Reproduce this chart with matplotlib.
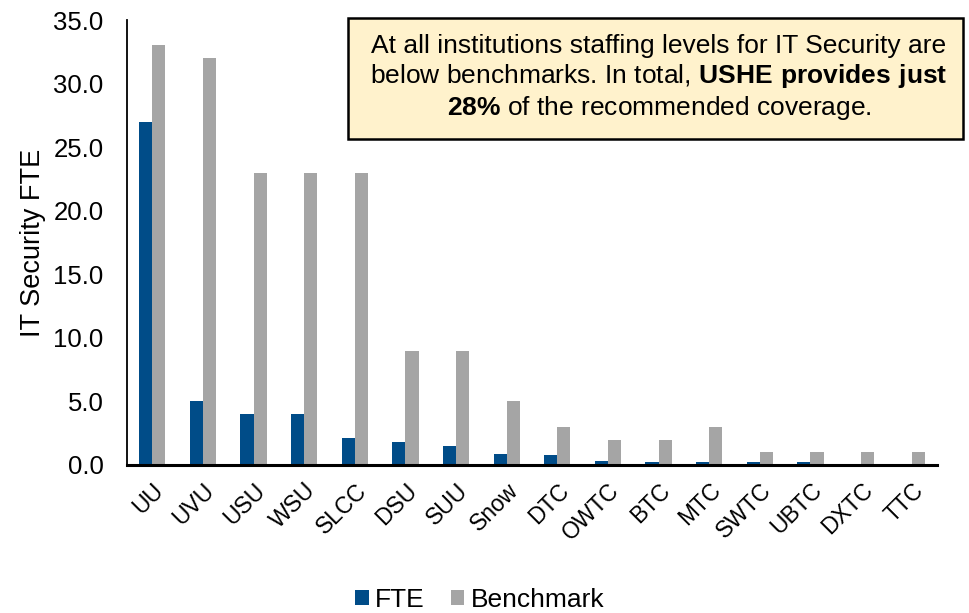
import matplotlib
matplotlib.use("Agg")
import matplotlib.pyplot as plt
from matplotlib.patches import Rectangle
from matplotlib.transforms import ScaledTranslation
import numpy as np

plt.rcParams['font.family'] = ['Liberation Sans', 'DejaVu Sans']
plt.rcParams['mathtext.fontset'] = 'custom'
plt.rcParams['mathtext.rm'] = 'Liberation Sans'
plt.rcParams['mathtext.bf'] = 'Liberation Sans:bold'

categories = ["UU", "UVU", "USU", "WSU", "SLCC", "DSU", "SUU", "Snow", "DTC",
              "OWTC", "BTC", "MTC", "SWTC", "UBTC", "DXTC", "TTC"]
fte = [27.0, 5.0, 4.0, 4.0, 2.1, 1.8, 1.5, 0.9, 0.8, 0.3, 0.2, 0.2, 0.2, 0.2, 0.1, 0.1]
benchmark = [33.0, 32.0, 23.0, 23.0, 23.0, 9.0, 9.0, 5.0, 3.0, 2.0, 2.0, 3.0, 1.0, 1.0, 1.0, 1.0]
yticks = [0, 5, 10, 15, 20, 25, 30, 35]

W, H = 970, 613
fig = plt.figure(figsize=(W/100, H/100), dpi=100)
ax = fig.add_axes([127/W, 1 - 465/H, (937-127)/W, (465-20)/H])

x = np.arange(len(categories))
w = 0.26
ax.bar(x - w/2, fte, width=w, color='#004C88', label='FTE')
ax.bar(x + w/2, benchmark, width=w, color='#A5A5A5', label='Benchmark')

ax.set_xlim(-0.5, len(categories) - 0.5)
ax.set_ylim(0, 35)
ax.set_yticks(yticks)
ax.set_yticklabels([f"{v:.1f}" for v in yticks], fontsize=18.5)
ax.set_xticks(x)
ax.set_xticklabels(categories, rotation=45, ha='right', rotation_mode='anchor', fontsize=16.5)
shift = ScaledTranslation(-5/100, 0, fig.dpi_scale_trans)
for lbl in ax.get_xticklabels():
    lbl.set_transform(lbl.get_transform() + shift)
ax.tick_params(axis='y', length=0, pad=17)
ax.tick_params(axis='x', length=0, pad=10)
for s in ['top', 'right']:
    ax.spines[s].set_visible(False)
ax.spines['left'].set_linewidth(1.3)
ax.spines['bottom'].set_linewidth(2.2)
ax.set_ylabel("IT Security FTE", fontsize=19.5)
ax.yaxis.set_label_coords(-(127-46)/(937-127), 0.5)

fig.legend(loc='center', bbox_to_anchor=(480/W, 1 - 600/H), ncol=2, frameon=False,
           fontsize=19, handlelength=0.5, handleheight=0.5, handletextpad=0.25,
           columnspacing=1.0)

fig.patches.append(Rectangle((348/W, 1 - 139/H), (963-348)/W, (139-18)/H,
                             transform=fig.transFigure, facecolor='#FFF2CC',
                             edgecolor='black', linewidth=1.8, zorder=5))
txt = ("At all institutions staffing levels for IT Security are\n"
       r"below benchmarks. In total, $\mathbf{USHE\ provides\ just}$" "\n"
       r"$\mathbf{28\%}$ of the recommended coverage.")
fig.text(659/W, 1 - 78/H, txt, ha='center', va='center', fontsize=19,
         linespacing=1.2, zorder=6)

fig.savefig("out.png", dpi=100)
